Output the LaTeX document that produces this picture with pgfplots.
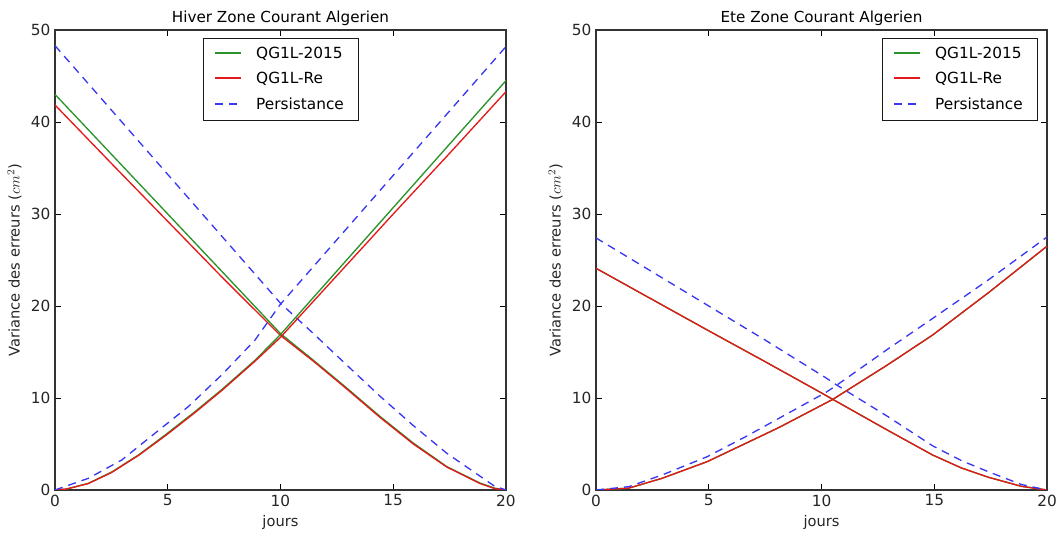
\documentclass[border=0pt]{standalone}
\usepackage{fontspec}
\setmainfont{DejaVu Sans}
\usepackage{pgfplots}
\pgfplotsset{compat=1.18}
\definecolor{mgreen}{rgb}{0.16,0.58,0.16}
\definecolor{mred}{rgb}{0.90,0.10,0.10}
\definecolor{mblue}{rgb}{0.22,0.22,0.95}
\pgfplotsset{
  myaxis/.style={
    scale only axis, width=338.25pt, height=345pt,
    xmin=0, xmax=20, ymin=0, ymax=50,
    xtick={0,5,10,15,20}, ytick={0,10,20,30,40,50},
    tick align=inside, major tick length=4.5pt,
    tick style={black, line width=0.6pt},
    axis line style={black!80, line width=0.9pt},
    /pgf/number format/assume math mode=true,
    tick label style={font=\fontsize{11.5}{13}\selectfont, text=black!85},
    label style={font=\fontsize{11}{13}\selectfont, text=black!85},
    title style={font=\fontsize{11.4}{13}\selectfont, yshift=-6.5pt},
    xlabel={jours},
    ylabel={Variance des erreurs ($cm^2$)},
    legend cell align=left,
    legend style={draw=black!90, font=\fontsize{11.5}{13}\selectfont,
      row sep=5pt, inner xsep=8.5pt, inner ysep=4.5pt,
      /tikz/every odd column/.append style={column sep=9pt}},
    legend image code/.code={\draw[#1, line width=1.3pt] (0pt,0.4pt) -- (19pt,0.4pt);},
  },
  gl/.style={mgreen, line width=1pt},
  rl/.style={mred, line width=1pt},
  bl/.style={mblue, line width=1pt, dash pattern=on 6pt off 4.5pt},
}
\begin{document}
\begin{tikzpicture}
\path[use as bounding box] (-41.25pt,-33pt) rectangle (750.75pt,367.5pt);
\begin{axis}[myaxis, at={(0pt,0pt)}, anchor=south west,
  title={Hiver Zone Courant Algerien},
  legend style={at={(0.5,0.983)}, anchor=north}]
\addplot[gl] coordinates {(0,43.0)(2.5,36.5)(5,30.0)(7.5,23.5)(10,17.0)(11.46,14.1)(12.93,11.1)(14.41,8.0)(15.89,5.1)(17.37,2.55)(18.85,0.75)(19.5,0.2)(20,0)};
\addlegendentry{QG1L-2015}
\addplot[rl] coordinates {(0,41.85)(2.5,35.5)(5,29.2)(7.5,22.9)(10,16.8)(11.46,14.0)(12.93,11.0)(14.41,7.9)(15.89,5.0)(17.37,2.5)(18.85,0.7)(19.5,0.15)(20,0)};
\addlegendentry{QG1L-Re}
\addplot[bl] coordinates {(0,48.3)(2.5,41.3)(5,34.3)(7.5,27.3)(10,20.3)(11.46,17.0)(12.93,13.6)(14.41,10.2)(15.89,7.0)(17.37,4.0)(18.85,1.5)(19.5,0.4)(20,0)};
\addlegendentry{Persistance}
\addplot[gl, forget plot] coordinates {(0,0)(0.5,0.1)(1.48,0.72)(2.51,1.95)(3.7,3.8)(4.95,6.1)(6.2,8.5)(7.39,10.9)(8.87,14.1)(10,16.9)(12.5,23.8)(15,30.7)(17.5,37.6)(20,44.5)};
\addplot[rl, forget plot] coordinates {(0,0)(0.5,0.1)(1.48,0.7)(2.51,1.9)(3.7,3.75)(4.95,6.0)(6.2,8.4)(7.39,10.8)(8.87,14.0)(10,16.6)(12.5,23.3)(15,30.0)(17.5,36.6)(20,43.3)};
\addplot[bl, forget plot] coordinates {(0,0)(1.48,1.27)(2.96,3.26)(4.43,6.16)(5.91,9.06)(7.39,12.5)(8.87,16.3)(10,20.2)(12.5,27.2)(15,34.2)(17.5,41.2)(20,48.2)};
\end{axis}
\begin{axis}[myaxis, at={(405.75pt,0pt)}, anchor=south west,
  title={Ete Zone Courant Algerien},
  legend style={at={(0.978,0.983)}, anchor=north east}]
\addplot[gl] coordinates {(0,24.1)(2.5,20.7)(5,17.3)(7.5,13.95)(10,10.55)(10.5,9.85)(12.93,6.5)(14.93,3.8)(16.2,2.4)(17.38,1.4)(18.86,0.4)(20,0)};
\addlegendentry{QG1L-2015}
\addplot[rl] coordinates {(0,24.1)(2.5,20.7)(5,17.3)(7.5,13.95)(10,10.55)(10.5,9.85)(12.93,6.5)(14.93,3.8)(16.2,2.4)(17.38,1.4)(18.86,0.4)(20,0)};
\addlegendentry{QG1L-Re}
\addplot[bl] coordinates {(0,27.4)(2.5,23.7)(5,20.0)(7.5,16.3)(10.19,12.2)(10.68,11.4)(12.93,8.0)(14.93,4.8)(16.2,3.2)(17.38,2.0)(18.86,0.6)(20,0)};
\addlegendentry{Persistance}
\addplot[gl, forget plot] coordinates {(0,0)(1.45,0.2)(2.93,1.27)(4.93,3.08)(6.64,5.07)(8.12,6.8)(10.5,9.85)(12.93,13.6)(14.93,16.85)(17.38,21.4)(20,26.5)};
\addplot[rl, forget plot] coordinates {(0,0)(1.45,0.2)(2.93,1.27)(4.93,3.08)(6.64,5.07)(8.12,6.8)(10.5,9.85)(12.93,13.6)(14.93,16.85)(17.38,21.4)(20,26.5)};
\addplot[bl, forget plot] coordinates {(0,0)(1.45,0.36)(2.93,1.63)(4.93,3.62)(6.64,5.8)(8.12,7.8)(10.19,10.6)(10.68,11.4)(12.93,15.3)(14.93,18.65)(17.38,22.8)(20,27.5)};
\end{axis}
\end{tikzpicture}
\end{document}
